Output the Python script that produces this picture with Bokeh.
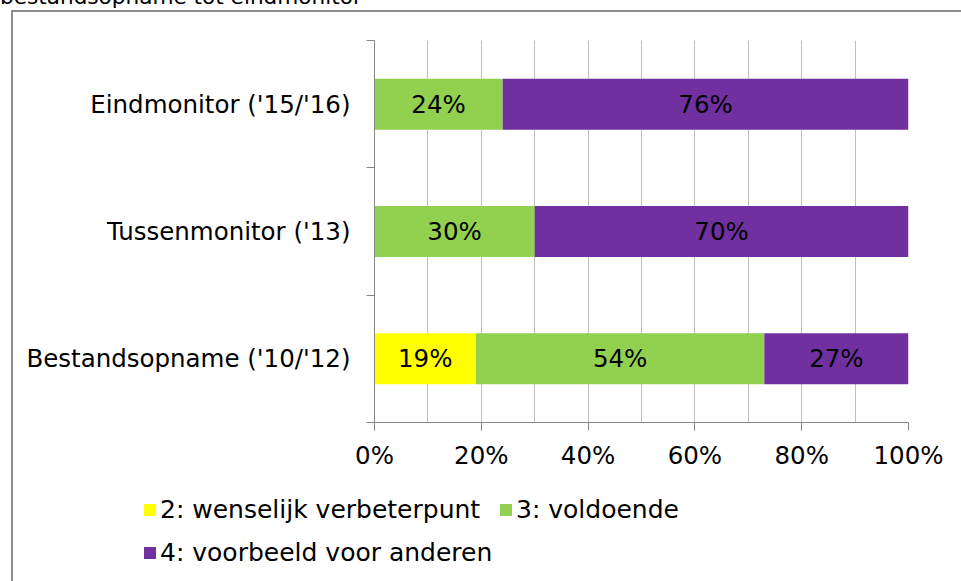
from bokeh.plotting import figure
from bokeh.layouts import column
from bokeh.models import (ColumnDataSource, FixedTicker, PrintfTickFormatter, Div)
from bokeh.core.properties import value
from bokeh.embed import file_html
from bokeh.resources import INLINE

# ---- data ----
categories = ["Bestandsopname ('10/'12)", "Tussenmonitor ('13)", "Eindmonitor ('15/'16)"]
series_names = ["2: wenselijk verbeterpunt", "3: voldoende", "4: voorbeeld voor anderen"]
s2 = [19, 0, 0]
s3 = [54, 30, 24]
s4 = [27, 70, 76]
colors = ["#FFFF00", "#92D050", "#7030A0"]
x_ticks = [0, 20, 40, 60, 80, 100]
grid_ticks = [0, 10, 20, 30, 40, 50, 60, 70, 80, 90, 100]
title_text = "bestandsopname tot eindmonitor"

FONT = "DejaVu Sans"
FS = "24.5px"
LEG_FS = "25px"
GRAY = "#868686"
BOX = "#8C8C8C"

ypos = [i + 0.5 for i in range(len(categories))]
src = ColumnDataSource(dict(y=ypos, s2=s2, s3=s3, s4=s4))

TOP_H = 9     # height of the (cut-off) title strip
MAIN_H = 466  # main chart height
LEG_H = 581 - TOP_H - MAIN_H
LEG_TOP = TOP_H + MAIN_H

p = figure(width=961, height=MAIN_H, output_backend="svg", toolbar_location=None,
           x_range=(0, 100), y_range=(0, len(categories)),
           min_border_left=374, min_border_right=53,
           min_border_top=40 - TOP_H, min_border_bottom=MAIN_H - (422 - TOP_H), margin=0)
p.outline_line_color = None
p.border_fill_color = None
p.background_fill_color = None

rs = p.hbar_stack(["s2", "s3", "s4"], y="y", height=0.4, color=colors,
                  line_color=None, source=src)

# segment labels
lx, ly, lt = [], [], []
for i in range(len(categories)):
    left = 0
    for vals in (s2, s3, s4):
        v = vals[i]
        if v > 0:
            lx.append(left + v / 2)
            ly.append(ypos[i])
            lt.append(f"{v}%")
        left += v
p.text(x=lx, y=ly, text=lt, text_align="center", text_baseline="middle",
       text_font=value(FONT), text_font_size=FS, text_color="black")

# x axis
p.xaxis.ticker = FixedTicker(ticks=x_ticks)
p.xaxis.formatter = PrintfTickFormatter(format="%d%%")
p.xaxis.axis_line_color = GRAY
p.xaxis.major_tick_line_color = GRAY
p.xaxis.major_tick_out = 8
p.xaxis.major_tick_in = 0
p.xaxis.minor_tick_line_color = None
p.xaxis.major_label_text_font = FONT
p.xaxis.major_label_text_font_size = FS
p.xaxis.major_label_text_color = "black"
p.xaxis.major_label_standoff = 10
p.xgrid.ticker = FixedTicker(ticks=grid_ticks)
p.xgrid.grid_line_color = "#BFBFBF"
p.ygrid.grid_line_color = None

# y axis
p.yaxis.ticker = FixedTicker(ticks=ypos, minor_ticks=list(range(len(categories) + 1)))
p.yaxis.major_label_overrides = {yy: c for yy, c in zip(ypos, categories)}
p.yaxis.axis_line_color = GRAY
p.yaxis.major_tick_out = 0
p.yaxis.major_tick_in = 0
p.yaxis.minor_tick_out = 8
p.yaxis.minor_tick_in = 0
p.yaxis.minor_tick_line_color = GRAY
p.yaxis.major_label_text_font = FONT
p.yaxis.major_label_text_font_size = FS
p.yaxis.major_label_text_color = "black"
p.yaxis.major_label_standoff = 16

# legend strip (HTML, same colours and labels); square centres in page pixels
leg_pos = [(144, 510), (500, 510), (144, 553)]
SQ = 12
parts = []
for (lxp, lcy), name, col in zip(leg_pos, series_names, colors):
    top = lcy - LEG_TOP - SQ / 2
    parts.append(f'<span style="position:absolute;left:{lxp}px;top:{top}px;'
                 f'width:{SQ}px;height:{SQ}px;background:{col}"></span>')
    parts.append(f'<span style="position:absolute;left:{lxp + SQ + 4}px;'
                 f'top:{lcy - LEG_TOP - 15}px;line-height:30px;white-space:nowrap">{name}</span>')
legend_div = Div(text=f'<div style="position:relative;width:961px;height:{LEG_H}px;'
                      f'font-family:\'{FONT}\';font-size:{LEG_FS};color:black">'
                      + "".join(parts) + '</div>',
                 width=961, height=LEG_H, margin=0)

# cut-off title strip above the box
title_div = Div(text=f'<div style="position:relative;top:-15px;white-space:nowrap;'
                     f'font-family:\'{FONT}\';font-size:21.6px;line-height:23px;color:black">'
                     f'{title_text}</div>',
                width=961, height=TOP_H, margin=0,
                styles={"overflow": "hidden"})

box_bg = (f"linear-gradient({BOX},{BOX}) 11px 10px / 2px 700px no-repeat, "
          f"linear-gradient({BOX},{BOX}) 11px 10px / 1000px 2px no-repeat, white")

layout = column(title_div, p, legend_div, spacing=0, margin=0,
                styles={"background": box_bg})

open("out.html", "w").write(file_html(layout, INLINE))
